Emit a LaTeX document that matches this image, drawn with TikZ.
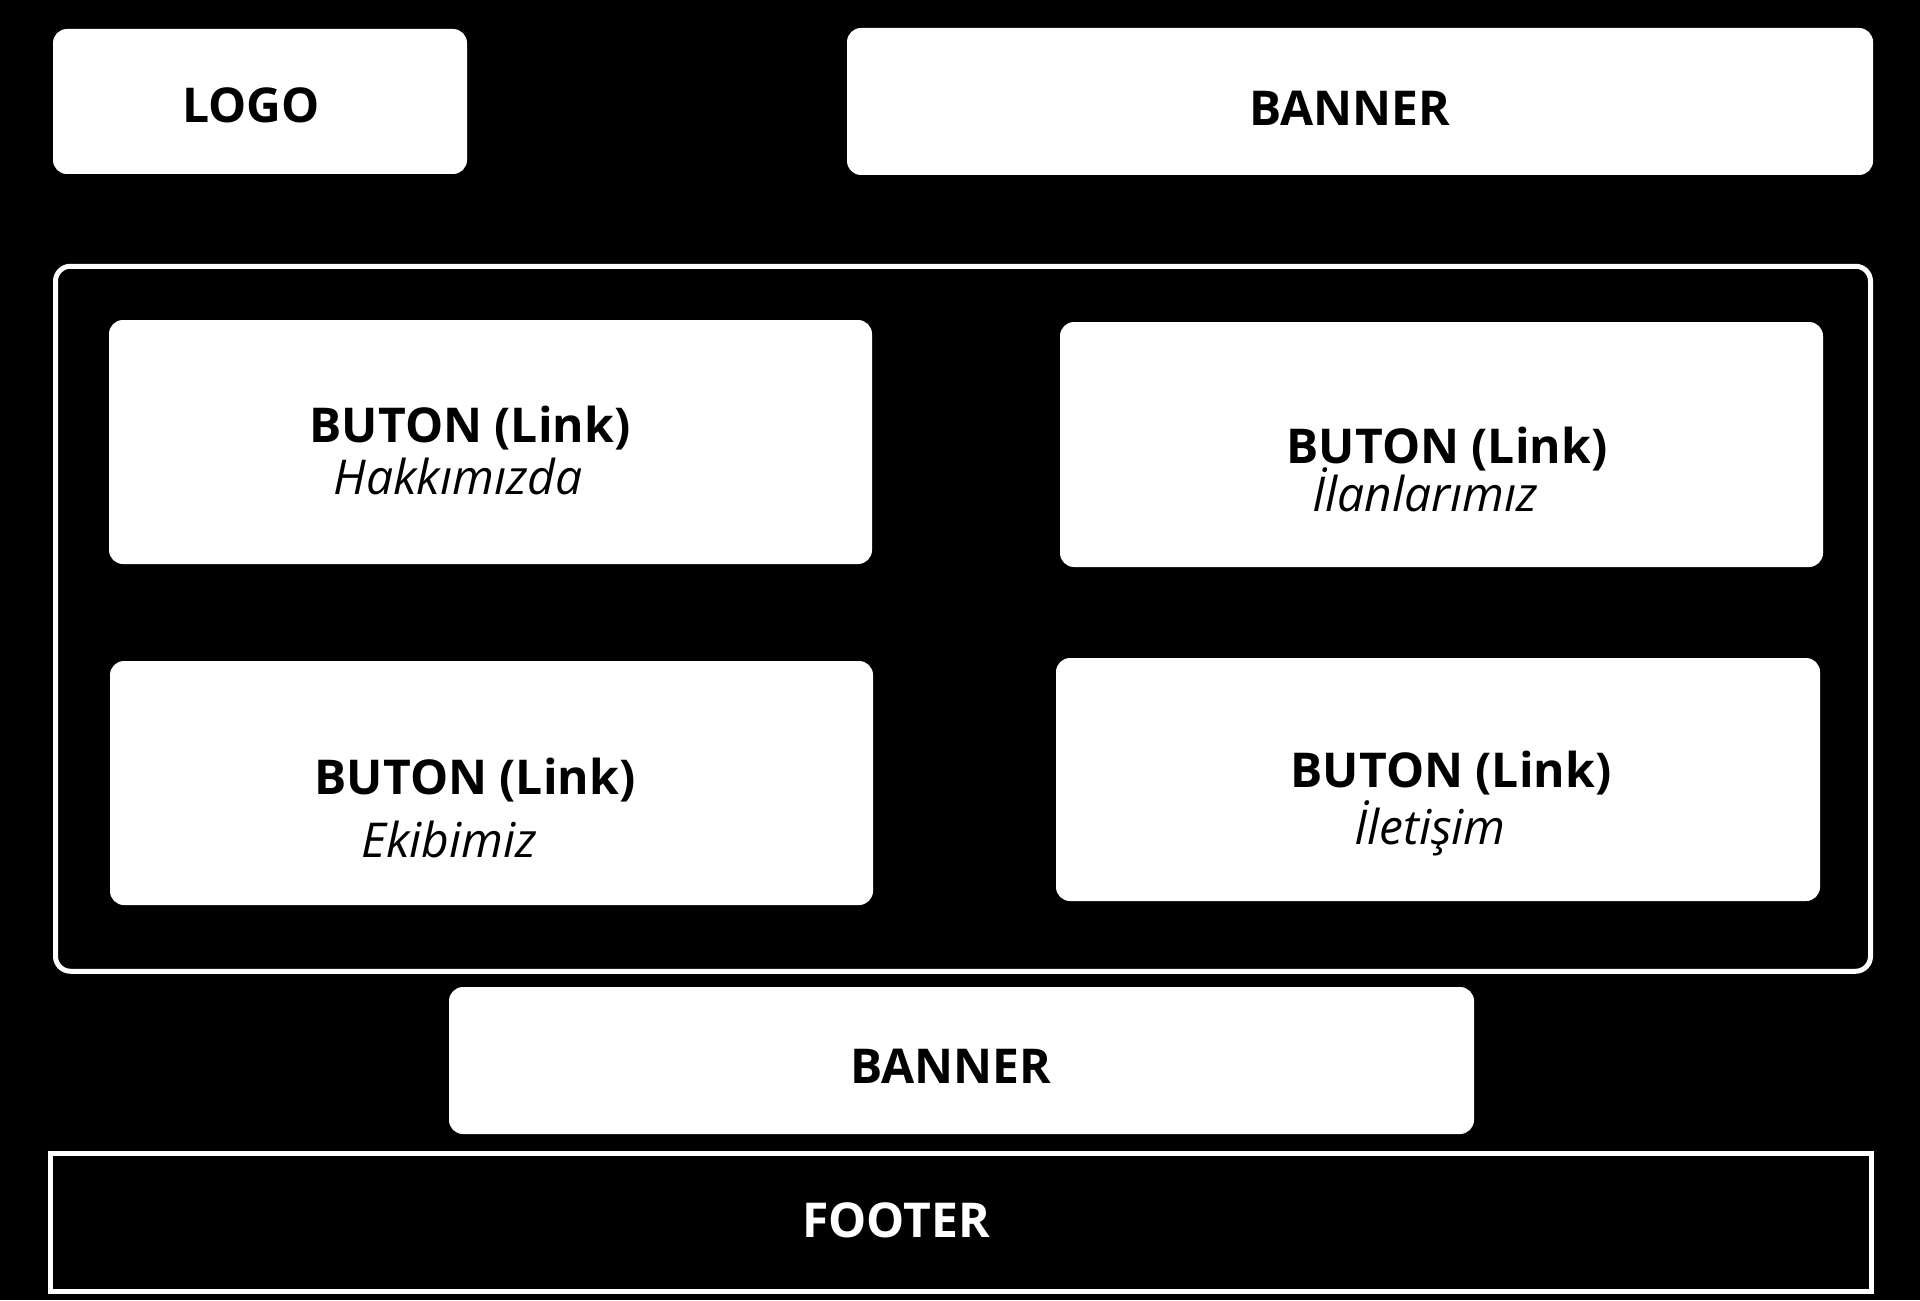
\documentclass[tikz,border=0pt]{standalone}
\usepackage{fontspec}
\setmainfont{Open Sans}
\usetikzlibrary{
  backgrounds,
  positioning,
}
\tikzstyle{block} = [
  rectangle,
  fill=white,
  rounded corners=7pt,
  inner sep=0pt,
]
\tikzstyle{frame} = [
  rectangle,
  draw=white,
  line width=2.5pt,
  inner sep=0pt,
]
\tikzstyle{title} = [
  anchor=base,
  inner sep=0pt,
  font=\fontsize{24}{28}\selectfont\bfseries,
]
\tikzstyle{subtitle} = [
  anchor=base,
  inner sep=0pt,
  font=\fontsize{24}{28}\selectfont\itshape,
]

\begin{document}
\begin{tikzpicture}[x=0.5pt,y=-0.5pt]

      \useasboundingbox (0,0) rectangle (1920,1300);
      \fill[black] (0,0) rectangle (1920,1300);

      % header
      \node[block,minimum width=207pt,minimum height=72.5pt]    (logo)    at (260,101.5)  {};
      \node[block,minimum width=513pt,minimum height=73.5pt]    (banner1) at (1360,101.5) {};
      \node[title]    (logotext)    at (251,123)  {LOGO};
      \node[title]    (banner1text) at (1350,126) {BANNER};

      % menu
      \node[frame,rounded corners=7.5pt,minimum width=907.5pt,minimum height=352.5pt] (menu) at (963,618.75) {};

      \node[block,minimum width=381.5pt,minimum height=122pt]   (b1) at (490.5,442)  {};
      \node[block,minimum width=381.5pt,minimum height=122.5pt] (b2) at (1441.5,444.5) {};
      \node[block,minimum width=381.5pt,minimum height=122pt]   (b3) at (491.5,783)  {};
      \node[block,minimum width=382pt,minimum height=121.5pt]   (b4) at (1438,779.5) {};

      \node[title]    (b1title) at (470,442)  {BUTON (Link)};
      \node[subtitle] (b1sub)   at (458,494)  {Hakkımızda};
      \node[title]    (b2title) at (1447,463) {BUTON (Link)};
      \node[subtitle] (b2sub)   at (1425,511) {İlanlarımız};
      \node[title]    (b3title) at (475,794)  {BUTON (Link)};
      \node[subtitle] (b3sub)   at (449,857)  {Ekibimiz};
      \node[title]    (b4title) at (1451,787) {BUTON (Link)};
      \node[subtitle] (b4sub)   at (1430,844) {İletişim};

      % bottom
      \node[block,minimum width=512.5pt,minimum height=73.5pt]  (banner2) at (961.5,1060.5) {};
      \node[title]    (banner2text) at (951,1083) {BANNER};

      \node[frame,minimum width=910.25pt,minimum height=68.75pt] (footer) at (960.75,1222.25) {};
      \node[title,text=white] (footertext) at (896,1237) {FOOTER};

    \end{tikzpicture}
\end{document}
